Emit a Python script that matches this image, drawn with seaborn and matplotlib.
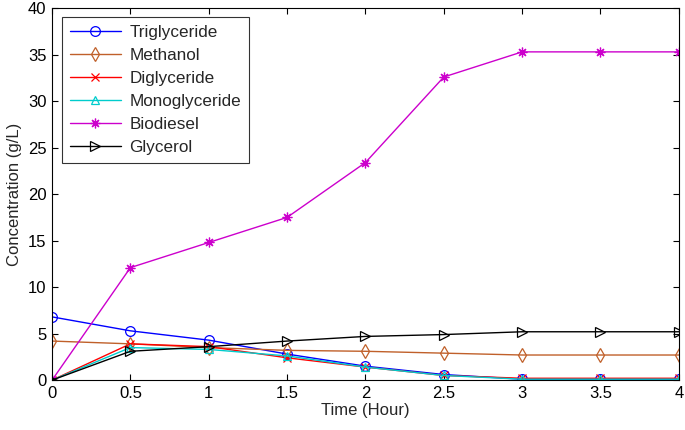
import matplotlib
matplotlib.use("Agg")
import matplotlib.pyplot as plt
import seaborn as sns
import pandas as pd

time = [0, 0.5, 1, 1.5, 2, 2.5, 3, 3.5, 4]
triglyceride = [6.8, 5.3, 4.3, 2.8, 1.5, 0.6, 0.1, 0.1, 0.1]
methanol = [4.2, 3.9, 3.5, 3.2, 3.1, 2.9, 2.7, 2.7, 2.7]
diglyceride = [0.0, 3.9, 3.6, 2.4, 1.4, 0.5, 0.2, 0.2, 0.2]
monoglyceride = [0.0, 3.5, 3.3, 2.6, 1.4, 0.5, 0.1, 0.1, 0.1]
biodiesel = [0.0, 12.1, 14.8, 17.5, 23.4, 32.6, 35.3, 35.3, 35.3]
glycerol = [0.0, 3.1, 3.6, 4.2, 4.7, 4.9, 5.2, 5.2, 5.2]

series_names = ["Triglyceride", "Methanol", "Diglyceride", "Monoglyceride", "Biodiesel", "Glycerol"]
series_vals = [triglyceride, methanol, diglyceride, monoglyceride, biodiesel, glycerol]
colors = ["#0000ff", "#c0602a", "#ff0000", "#00cccc", "#cc00cc", "#000000"]
markers = ["o", "d", "x", "^", (8, 2, 0), ">"]
msizes = [7, 7, 6, 6, 7, 7]

sns.set_style("white")
plt.rcParams["font.family"] = ["Liberation Sans", "DejaVu Sans"]

fig = plt.figure(figsize=(6.85, 4.30), dpi=100)
ax = fig.add_axes([0.076, 0.116, 0.915, 0.865])

for name, vals, c, m, ms in zip(series_names, series_vals, colors, markers, msizes):
    df = pd.DataFrame({"Time": time, "Conc": vals})
    sns.lineplot(data=df, x="Time", y="Conc", ax=ax, color=c, marker=m,
                 markersize=ms, markerfacecolor="none",
                 markeredgecolor=c, markeredgewidth=0.9, linewidth=1.0, label=name)

ax.set_xlim(0, 4)
ax.set_ylim(0, 40)
ax.set_xticks([0, 0.5, 1, 1.5, 2, 2.5, 3, 3.5, 4])
ax.set_xticklabels(["0", "0.5", "1", "1.5", "2", "2.5", "3", "3.5", "4"])
ax.set_yticks(range(0, 41, 5))
ax.tick_params(direction="in", length=4, labelsize=12, top=True, right=True,
               bottom=True, left=True, colors="#000000", width=0.8, pad=4)
ax.set_xlabel("Time (Hour)", fontsize=12, labelpad=2)
ax.set_ylabel("Concentration (g/L)", fontsize=12, labelpad=4)
for s in ax.spines.values():
    s.set_color("#000000")
    s.set_linewidth(0.8)

leg = ax.legend(loc="upper left", bbox_to_anchor=(0.016, 0.975), borderaxespad=0,
                fontsize=12.3, frameon=True, fancybox=False, edgecolor="#000000",
                handlelength=3.0, borderpad=0.45, labelspacing=0.47, handletextpad=0.5)
leg.get_frame().set_linewidth(0.8)

fig.savefig("out.png", dpi=100, facecolor="white")
